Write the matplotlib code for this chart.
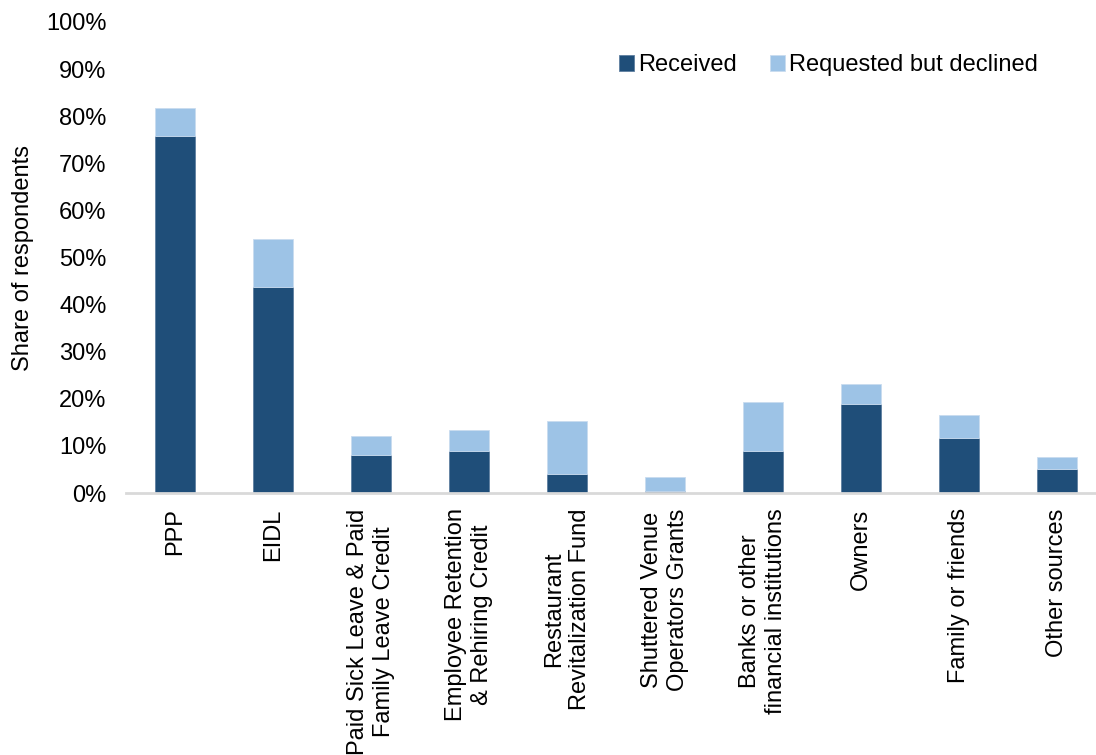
import matplotlib.pyplot as plt
from matplotlib.ticker import PercentFormatter
import numpy as np

plt.rcParams['font.family'] = ['Liberation Sans', 'DejaVu Sans']

categories = [
    "PPP",
    "EIDL",
    "Paid Sick Leave & Paid\nFamily Leave Credit",
    "Employee Retention\n& Rehiring Credit",
    "Restaurant\nRevitalization Fund",
    "Shuttered Venue\nOperators Grants",
    "Banks or other\nfinancial institutions",
    "Owners",
    "Family or friends",
    "Other sources",
]
received = [75.7, 43.7, 8.1, 8.9, 4.0, 0.5, 8.9, 19.0, 11.7, 5.1]
total_requested = [81.7, 53.9, 12.0, 13.4, 15.2, 3.4, 19.4, 23.1, 16.6, 7.6]
declined = [t - r for t, r in zip(total_requested, received)]

dark_blue = '#1F4E79'
light_blue = '#9DC3E6'
fs = 17

fig = plt.figure(figsize=(10.96, 7.55), dpi=100)
ax = fig.add_axes([126 / 1096, 1 - 493 / 755, 980 / 1096, 471 / 755])

x = np.arange(len(categories))
w = 0.41
ax.bar(x, received, w, color=dark_blue, edgecolor='#5f7fa0', linewidth=0.6,
       label='Received')
ax.bar(x, declined, w, bottom=received, color=light_blue, edgecolor='#c9dcef',
       linewidth=0.6, label='Requested but declined')

ax.set_xlim(-0.5, len(categories) - 0.5)
ax.set_ylim(0, 100)
ax.set_yticks(np.arange(0, 101, 10))
ax.yaxis.set_major_formatter(PercentFormatter(decimals=0))
ax.set_xticks(x)
ax.set_xticklabels(categories, rotation=90, ha='center', va='top')
ax.tick_params(axis='y', length=0, pad=14, labelsize=fs)
ax.tick_params(axis='x', length=0, pad=11, labelsize=fs)

for s in ['top', 'right', 'left']:
    ax.spines[s].set_visible(False)
ax.spines['bottom'].set_color('#D9D9D9')
ax.spines['bottom'].set_linewidth(2)

fig.text(23 / 1096, 1 - 258 / 755, 'Share of respondents', rotation=90,
         ha='center', va='center', fontsize=fs)

fig.legend(loc='center left', bbox_to_anchor=(619 / 1096, 1 - 65 / 755),
           ncol=2, frameon=False, fontsize=fs, handlelength=0.65,
           handleheight=0.65, handletextpad=0.15, columnspacing=1.4,
           borderaxespad=0, borderpad=0)

fig.savefig('out.png', dpi=100)
